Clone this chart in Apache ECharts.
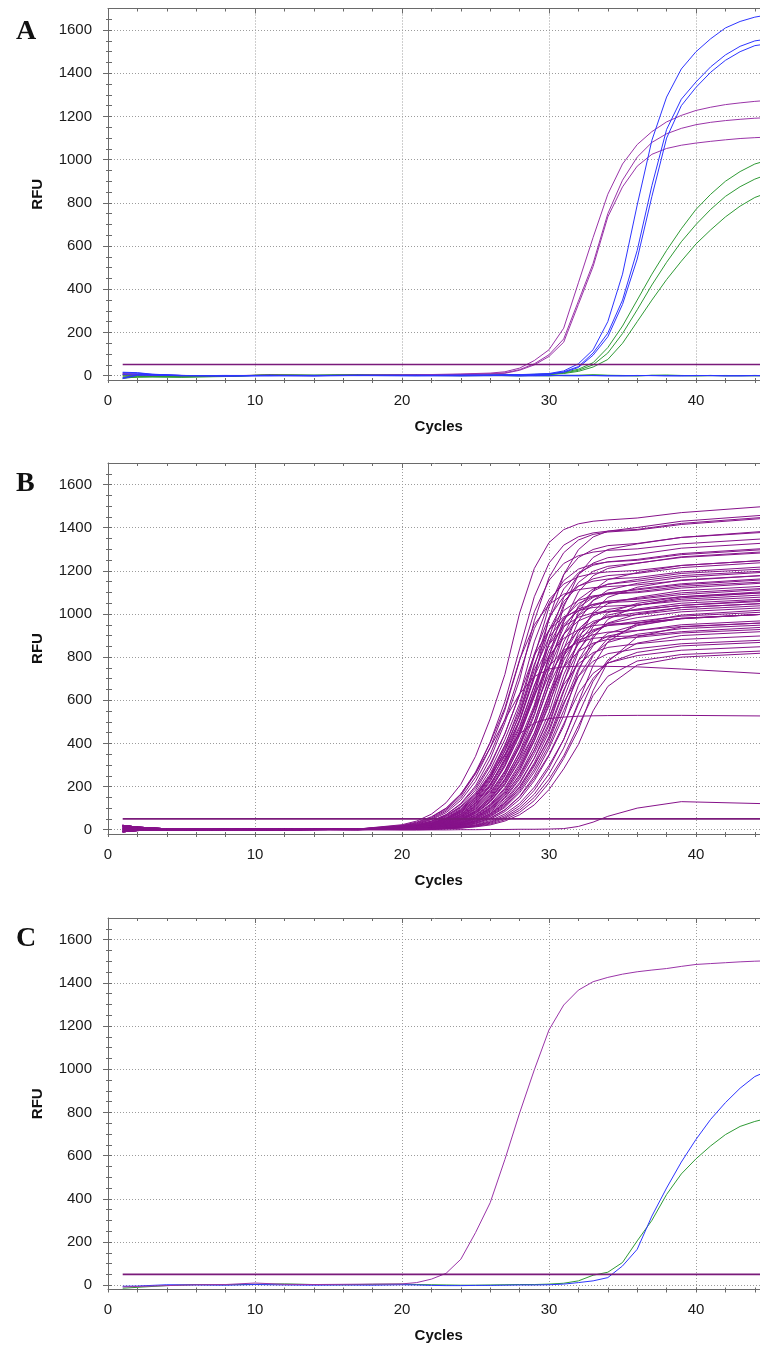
<!DOCTYPE html>
<html>
<head>
<meta charset="utf-8">
<script src="https://cdn.jsdelivr.net/npm/echarts@6/dist/echarts.min.js"></script>
<style>
  html, body { margin: 0; padding: 0; background: #fff; }
  #chart { width: 760px; height: 1346px; }
</style>
</head>
<body>
<div id="chart"></div>
<script>
// ---- data (RFU) ----
const xMinorTicks = [0, 2, 4, 6, 8, 10, 12, 14, 16, 18, 20, 22, 24, 26, 28, 30, 32, 34, 36, 38, 40, 42, 44];
const yMajorTicks = [0, 200, 400, 600, 800, 1000, 1200, 1400, 1600];
const yMinorTicks = [0, 50, 100, 150, 200, 250, 300, 350, 400, 450, 500, 550, 600, 650, 700, 750, 800,
  850, 900, 950, 1000, 1050, 1100, 1150, 1200, 1250, 1300, 1350, 1400, 1450, 1500, 1550, 1600, 1650];
const thresholdCycles = [1, 45];
const thresholds = [52, 50, 50];

// panel A
const aCycles = [1, 2, 3, 5, 8, 11, 14, 17, 21, 24, 26, 27, 28, 29, 30, 31, 32, 33, 34, 35, 36, 37, 38, 39, 40, 41, 42, 43, 44, 45];
const aPurple = [
  [8, 6, 3, 1, 0, 2, 1, 2, 4, 8, 12, 18, 35, 70, 120, 220, 430, 640, 840, 980, 1070, 1130, 1175, 1205, 1228, 1243, 1255, 1263, 1270, 1275],
  [4, 5, 2, 0, 1, 1, 0, 2, 3, 6, 9, 13, 28, 55, 97, 170, 345, 520, 750, 905, 1012, 1080, 1120, 1145, 1162, 1173, 1181, 1187, 1192, 1195],
  [10, 7, 3, 1, 0, 2, 1, 1, 3, 5, 8, 11, 25, 50, 89, 155, 330, 505, 735, 874, 970, 1025, 1052, 1067, 1077, 1085, 1092, 1098, 1102, 1105]
];
const aBlue = [
  [14, 12, 6, 1, -1, 1, 0, 2, 1, 2, 3, 4, 5, 7, 10, 22, 55, 120, 250, 470, 790, 1090, 1290, 1420, 1500, 1560, 1610, 1640, 1660, 1672],
  [-10, 4, 3, 0, 0, 1, -1, 1, 2, 1, 2, 3, 4, 6, 8, 18, 42, 105, 197, 350, 580, 880, 1140, 1280, 1360, 1430, 1485, 1525, 1550, 1560],
  [6, 8, 4, 1, -1, 0, 1, 1, 0, 2, 2, 3, 4, 5, 7, 15, 38, 95, 180, 330, 540, 830, 1100, 1250, 1335, 1405, 1460, 1500, 1528, 1538],
  [16, 14, 7, 1, -1, 1, 0, 1, -1, 0, 1, 0, -1, 1, 0, 2, 1, 0, -1, 0, 1, 0, -1, 0, 1, 0, -1, 0, 1, 0],
  [-14, 2, 3, 0, 1, -1, 1, 0, 1, -1, 0, 1, 0, -1, 1, 0, -1, 1, 0, -1, 0, 1, 0, -1, 0, 1, 0, -1, 0, -1]
];
const aGreen = [
  [-12, -6, -5, -6, -3, 3, 1, 4, 3, 2, 3, 4, 5, 6, 8, 15, 30, 60, 130, 230, 350, 470, 580, 680, 770, 840, 900, 945, 980, 1000],
  [-5, -3, -4, -5, -2, 4, 2, 5, 2, 1, 2, 3, 4, 5, 6, 12, 25, 50, 105, 195, 305, 420, 525, 620, 700, 770, 830, 875, 910, 935],
  [2, 0, -2, -4, -1, 2, 0, 3, 1, 0, 1, 2, 3, 4, 5, 10, 20, 40, 75, 150, 250, 350, 445, 530, 610, 675, 735, 785, 825, 850],
  [-10, -7, -6, -7, -4, 4, 2, 3, 5, 1, 0, 1, 2, 0, -1, 1, 2, 3, 1, 0, -1, 2, 1, 0, -1, 0, 1, 0, -1, 0],
  [4, 0, -3, -5, -2, 3, 1, 2, 4, 0, 1, 0, -1, 1, 2, 0, 1, 4, 2, 1, 0, 1, 3, 1, 0, 1, -1, 0, 1, 0]
];

// panel B
const bCycles = [1, 2, 4, 12, 17, 20, 21, 22, 23, 24, 25, 26, 27, 28, 29, 30, 31, 32, 33, 34, 36, 39, 45];
const bPurple = [
  [20, 12, 4, 2, 3, 23, 40, 72, 125, 210, 340, 514, 720, 1004, 1211, 1331, 1391, 1418, 1430, 1436, 1445, 1470, 1500],
  [15, 9, 2, 1, 2, 18, 32, 57, 98, 165, 267, 403, 565, 788, 950, 1044, 1092, 1113, 1122, 1127, 1135, 1155, 1180],
  [8, 6, 3, 0, 3, 17, 29, 53, 92, 157, 260, 406, 594, 838, 1080, 1236, 1319, 1358, 1376, 1384, 1392, 1420, 1450],
  [-6, -2, 0, 2, 1, 14, 25, 46, 79, 136, 224, 350, 512, 724, 932, 1067, 1139, 1172, 1188, 1195, 1202, 1225, 1250],
  [2, 3, 1, -1, 2, 12, 22, 40, 69, 118, 194, 304, 444, 627, 808, 925, 987, 1016, 1030, 1036, 1042, 1060, 1080],
  [-10, -4, -1, 1, 0, 13, 22, 39, 70, 121, 203, 328, 496, 695, 969, 1169, 1284, 1343, 1369, 1380, 1389, 1415, 1445],
  [15, 9, 2, 1, 2, 11, 20, 35, 63, 109, 183, 295, 446, 625, 871, 1051, 1155, 1208, 1231, 1241, 1249, 1275, 1300],
  [20, 12, 4, 2, 3, 11, 19, 33, 59, 102, 171, 276, 418, 585, 815, 984, 1081, 1130, 1152, 1162, 1169, 1195, 1220],
  [-6, -2, 0, 2, 1, 10, 17, 30, 53, 92, 155, 250, 378, 530, 739, 891, 979, 1024, 1044, 1053, 1059, 1080, 1100],
  [8, 6, 3, 0, 3, 9, 15, 27, 48, 84, 140, 227, 343, 480, 669, 807, 887, 927, 946, 953, 959, 980, 1000],
  [2, 3, 1, -1, 2, 9, 16, 28, 51, 88, 150, 249, 388, 568, 802, 1033, 1182, 1262, 1299, 1317, 1327, 1355, 1380],
  [-10, -4, -1, 1, 0, 8, 14, 25, 45, 79, 134, 223, 347, 508, 718, 925, 1058, 1129, 1163, 1178, 1188, 1215, 1240],
  [15, 9, 2, 1, 2, 7, 13, 23, 42, 73, 125, 207, 323, 472, 666, 859, 982, 1049, 1080, 1094, 1103, 1128, 1150],
  [20, 12, 4, 2, 3, 7, 12, 21, 39, 67, 115, 191, 298, 436, 615, 793, 907, 968, 997, 1010, 1018, 1040, 1060],
  [-6, -2, 0, 2, 1, 6, 11, 19, 35, 61, 105, 173, 270, 395, 558, 719, 822, 878, 904, 916, 923, 942, 960],
  [8, 6, 3, 0, 3, 7, 13, 22, 39, 70, 122, 205, 332, 502, 703, 979, 1182, 1298, 1357, 1384, 1401, 1430, 1460],
  [2, 3, 1, -1, 2, 6, 12, 20, 36, 64, 111, 187, 302, 457, 640, 892, 1076, 1183, 1236, 1261, 1276, 1305, 1330],
  [-10, -4, -1, 1, 0, 6, 10, 18, 32, 58, 100, 169, 273, 412, 578, 805, 971, 1067, 1116, 1138, 1152, 1178, 1200],
  [15, 9, 2, 1, 2, 5, 10, 17, 30, 54, 94, 157, 254, 384, 538, 749, 904, 993, 1038, 1059, 1072, 1098, 1120],
  [20, 12, 4, 2, 3, 5, 9, 16, 28, 50, 87, 146, 236, 357, 500, 697, 841, 924, 966, 985, 997, 1020, 1040],
  [-6, -2, 0, 2, 1, 4, 8, 14, 25, 45, 78, 131, 211, 320, 448, 624, 753, 827, 865, 882, 892, 912, 930],
  [8, 6, 3, 0, 3, 5, 8, 15, 26, 47, 82, 140, 232, 362, 529, 748, 963, 1102, 1177, 1211, 1235, 1265, 1290],
  [2, 3, 1, -1, 2, 4, 8, 14, 24, 44, 77, 132, 218, 340, 497, 702, 905, 1036, 1106, 1138, 1160, 1188, 1210],
  [-10, -4, -1, 1, 0, 4, 7, 13, 22, 40, 69, 118, 195, 305, 446, 630, 812, 929, 992, 1021, 1041, 1068, 1090],
  [15, 9, 2, 1, 2, 4, 6, 12, 20, 37, 64, 110, 181, 283, 414, 585, 754, 862, 921, 948, 966, 990, 1010],
  [20, 12, 4, 2, 3, 3, 6, 10, 18, 33, 57, 98, 162, 253, 369, 522, 672, 769, 821, 845, 862, 882, 900],
  [-6, -2, 0, 2, 1, 4, 6, 11, 19, 34, 60, 104, 175, 283, 428, 600, 836, 1009, 1109, 1159, 1192, 1225, 1250],
  [8, 6, 3, 0, 3, 3, 5, 10, 17, 30, 54, 94, 158, 256, 387, 543, 756, 912, 1003, 1048, 1077, 1108, 1130],
  [2, 3, 1, -1, 2, 3, 5, 9, 16, 29, 52, 90, 150, 243, 368, 515, 718, 866, 952, 995, 1023, 1050, 1070],
  [-10, -4, -1, 1, 0, 3, 5, 8, 15, 26, 47, 81, 136, 219, 332, 465, 648, 782, 859, 898, 923, 950, 970],
  [15, 9, 2, 1, 2, 3, 4, 8, 14, 24, 42, 74, 123, 199, 302, 423, 589, 711, 781, 816, 839, 862, 880],
  [20, 12, 4, 2, 3, 2, 4, 8, 14, 24, 43, 75, 128, 212, 331, 485, 684, 882, 1009, 1077, 1124, 1158, 1180],
  [-6, -2, 0, 2, 1, 2, 4, 7, 12, 21, 38, 67, 114, 189, 295, 431, 609, 785, 898, 958, 1000, 1030, 1050],
  [8, 6, 3, 0, 3, 2, 3, 6, 11, 19, 35, 60, 103, 171, 267, 391, 552, 711, 813, 868, 906, 932, 950],
  [2, 3, 1, -1, 2, 2, 3, 5, 10, 17, 31, 54, 92, 152, 238, 348, 491, 633, 725, 773, 807, 832, 850],
  [-10, -4, -1, 1, 0, 1, 3, 5, 9, 17, 30, 53, 92, 154, 249, 377, 528, 735, 887, 975, 1039, 1075, 1100],
  [15, 9, 2, 1, 2, 1, 3, 5, 9, 15, 27, 48, 84, 140, 227, 343, 480, 669, 807, 887, 946, 980, 1000],
  [20, 12, 4, 2, 3, 1, 3, 4, 8, 13, 23, 42, 73, 122, 197, 298, 418, 582, 702, 772, 822, 852, 870],
  [-6, -2, 0, 2, 1, 1, 2, 4, 7, 12, 21, 37, 65, 111, 183, 286, 418, 591, 761, 871, 957, 995, 1020],
  [8, 6, 3, 0, 3, 1, 2, 3, 6, 11, 19, 34, 58, 100, 165, 258, 378, 534, 688, 787, 865, 900, 920],
  [2, 3, 1, -1, 2, 1, 2, 3, 5, 10, 17, 30, 53, 90, 150, 234, 342, 482, 622, 711, 782, 812, 830],
  [-10, -4, -1, 1, 0, 1, 1, 3, 5, 8, 15, 26, 46, 80, 135, 218, 330, 463, 645, 778, 894, 940, 960],
  [15, 9, 2, 1, 2, 1, 1, 2, 4, 7, 13, 22, 40, 69, 115, 186, 282, 395, 551, 664, 763, 800, 820],
  [20, 12, 4, 2, 3, 16, 27, 49, 86, 147, 243, 380, 555, 784, 1010, 1156, 1234, 1270, 1287, 1295, 1302, 1325, 1350],
  [-6, -2, 0, 2, 1, 10, 18, 31, 55, 96, 161, 260, 393, 550, 767, 925, 1016, 1063, 1084, 1092, 1099, 1120, 1145],
  [8, 6, 3, 0, 3, 9, 16, 29, 51, 89, 149, 241, 364, 510, 711, 858, 942, 985, 1005, 1013, 1019, 1040, 1065],
  [2, 3, 1, -1, 2, 8, 15, 26, 48, 83, 142, 235, 366, 536, 757, 975, 1116, 1191, 1226, 1242, 1253, 1280, 1305],
  [-10, -4, -1, 1, 0, 7, 13, 22, 41, 71, 121, 200, 312, 457, 645, 831, 951, 1015, 1045, 1059, 1068, 1090, 1115],
  [15, 9, 2, 1, 2, 6, 11, 20, 35, 62, 108, 181, 293, 443, 620, 864, 1043, 1146, 1198, 1221, 1236, 1262, 1285],
  [20, 12, 4, 2, 3, 6, 10, 18, 31, 56, 97, 163, 263, 398, 558, 777, 938, 1030, 1077, 1098, 1112, 1135, 1160],
  [-6, -2, 0, 2, 1, 5, 9, 15, 27, 48, 84, 140, 227, 343, 480, 669, 807, 887, 927, 946, 957, 978, 1000],
  [8, 6, 3, 0, 3, 4, 8, 13, 24, 43, 74, 127, 209, 327, 478, 675, 870, 996, 1063, 1094, 1116, 1140, 1165],
  [2, 3, 1, -1, 2, 4, 7, 12, 21, 38, 67, 114, 189, 295, 431, 609, 785, 898, 958, 987, 1006, 1030, 1050],
  [-10, -4, -1, 1, 0, 3, 6, 10, 18, 32, 58, 100, 168, 271, 411, 575, 802, 967, 1063, 1111, 1142, 1170, 1195],
  [15, 9, 2, 1, 2, 3, 5, 9, 16, 28, 50, 86, 145, 234, 353, 495, 690, 833, 915, 956, 983, 1010, 1030],
  [20, 12, 4, 2, 3, 2, 4, 7, 13, 22, 40, 70, 120, 198, 310, 453, 639, 824, 942, 1006, 1049, 1080, 1105],
  [-6, -2, 0, 2, 1, 2, 4, 6, 12, 20, 36, 63, 108, 180, 280, 410, 579, 746, 853, 911, 950, 978, 1000],
  [8, 6, 3, 0, 3, 5, 9, 16, 28, 51, 88, 150, 249, 388, 568, 802, 1033, 1182, 1262, 1299, 1325, 1355, 1385],
  [2, 3, 1, -1, 2, 8, 14, 25, 45, 78, 131, 212, 321, 450, 627, 757, 832, 869, 887, 894, 899, 918, 940],
  [8, 6, 3, 0, 3, 20, 35, 60, 100, 165, 260, 380, 510, 630, 710, 745, 755, 758, 758, 757, 755, 745, 722],
  [-6, -2, 0, 2, 1, 12, 22, 38, 65, 105, 165, 250, 350, 445, 495, 515, 522, 526, 528, 529, 530, 530, 527],
  [-10, -4, -1, 1, 0, -2, -2, -1, -1, 0, 0, 1, 1, 2, 2, 3, 5, 15, 35, 62, 100, 130, 120]
];

// panel C
const cCycles = [1, 2, 4, 6, 8, 10, 12, 14, 16, 18, 20, 21, 22, 23, 24, 25, 26, 27, 28, 29, 30, 31, 32, 33, 34, 35, 36, 37, 38, 39, 40, 41, 42, 43, 44, 45];
const cPurple = [[-8, -6, -2, 2, 3, 10, 4, 3, 4, 5, 6, 12, 28, 55, 120, 243, 382, 582, 797, 997, 1182, 1297, 1366, 1405, 1425, 1440, 1451, 1459, 1466, 1476, 1485, 1489, 1493, 1497, 1500, 1502]];
const cBlue = [[-5, -4, 2, 1, 0, 3, 1, 0, 1, 0, 2, 1, -1, -2, -2, -1, -1, 0, 1, 1, 2, 5, 12, 20, 35, 89, 166, 320, 450, 570, 675, 768, 845, 912, 966, 995]];
const cGreen = [[-14, -10, -2, 3, 2, 4, 6, 3, 2, 4, 5, 3, 2, 1, 0, 0, 1, 2, 3, 3, 5, 9, 20, 46, 60, 105, 205, 300, 420, 515, 585, 645, 697, 735, 758, 775]];

// ---- styling ----
const PURPLE = '#9a34a8';
const PURPLE_B = '#86128a';
const BLUE = '#2d35ff';
const GREEN = '#2f9a35';
const THRESH = '#7a1a7a';
const AXIS = '#6a6a6a';
const FONT = 'Liberation Sans, Arial, sans-serif';

const panels = [
  { letter: 'A', top: 8.5, height: 371.5, letterTop: 18,
    groups: [[aCycles, aGreen, GREEN], [aCycles, aPurple, PURPLE], [aCycles, aBlue, BLUE]] },
  { letter: 'B', top: 463, height: 371, letterTop: 470,
    groups: [[bCycles, bPurple, PURPLE_B]] },
  { letter: 'C', top: 918, height: 371.5, letterTop: 925,
    groups: [[cCycles, cGreen, GREEN], [cCycles, cBlue, BLUE], [cCycles, cPurple, PURPLE]] }
];

const chart = echarts.init(document.getElementById('chart'));

const grid = [], xAxis = [], yAxis = [], series = [], graphic = [];

function xAxesFor(i) {
  const base = { gridIndex: i, type: 'value', min: 0, max: 45,
    axisLine: { show: false, onZero: false }, axisTick: { show: false },
    axisLabel: { show: false }, splitLine: { show: false } };
  const tickLine = { color: AXIS, width: 1 };
  return [
    Object.assign({}, base, {
      position: 'bottom', interval: 10,
      axisLine: { show: true, onZero: false, lineStyle: { color: AXIS, width: 1 } },
      axisLabel: { show: true, margin: 13, showMaxLabel: false, fontFamily: FONT, fontSize: 15, color: '#1a1a1a',
        formatter: v => String(v) },
      splitLine: { show: true, lineStyle: { type: [1, 2], color: '#9c9c9c', width: 1 } },
      name: 'Cycles', nameLocation: 'middle', nameGap: 39,
      nameTextStyle: { fontFamily: FONT, fontSize: 15, fontWeight: 'bold', color: '#111' }
    }),
    Object.assign({}, base, { position: 'bottom',
      axisTick: { show: true, customValues: xMinorTicks, length: 3, lineStyle: tickLine } }),
    Object.assign({}, base, { position: 'bottom',
      axisTick: { show: true, inside: true, customValues: xMinorTicks, length: 2, lineStyle: tickLine } }),
    Object.assign({}, base, { position: 'top', interval: 10,
      axisLine: { show: true, onZero: false, lineStyle: { color: AXIS, width: 1 } },
      axisTick: { show: true, inside: true, length: 5, lineStyle: tickLine } }),
    Object.assign({}, base, { position: 'top',
      axisTick: { show: true, inside: true, customValues: xMinorTicks, length: 3, lineStyle: tickLine } })
  ];
}

function yAxesFor(i) {
  const base = { gridIndex: i, type: 'value', min: -20, max: 1700, position: 'left',
    axisLine: { show: false, onZero: false }, axisTick: { show: false },
    axisLabel: { show: false }, splitLine: { show: false } };
  const tickLine = { color: AXIS, width: 1 };
  return [
    Object.assign({}, base, {
      splitNumber: 8,
      axisLine: { show: true, onZero: false, lineStyle: { color: AXIS, width: 1 } },
      axisTick: { show: true, customValues: yMajorTicks, length: 5, lineStyle: tickLine },
      axisLabel: { show: true, customValues: yMajorTicks, margin: 16, fontFamily: FONT, fontSize: 15, color: '#1a1a1a',
        formatter: v => String(v) },
      splitLine: { show: true, lineStyle: { type: [1, 2], color: '#9c9c9c', width: 1 } },
      name: 'RFU', nameLocation: 'middle', nameGap: 63,
      nameTextStyle: { fontFamily: FONT, fontSize: 15, fontWeight: 'bold', color: '#111' }
    }),
    Object.assign({}, base, {
      axisTick: { show: true, customValues: yMinorTicks, length: 2, lineStyle: tickLine } }),
    Object.assign({}, base, {
      axisTick: { show: true, inside: true, customValues: yMinorTicks, length: 4, lineStyle: tickLine } })
  ];
}

function lineSeries(i, cycles, values, color, width) {
  return {
    type: 'line', xAxisIndex: 5 * i, yAxisIndex: 3 * i,
    data: cycles.map((c, k) => [c, values[k]]),
    symbol: 'none', showSymbol: false, silent: true, animation: false,
    emphasis: { disabled: true },
    lineStyle: { color: color, width: width },
    itemStyle: { color: color }
  };
}

panels.forEach((p, i) => {
  grid.push({ left: 108, right: -9.5, top: p.top, height: p.height,
    containLabel: false, outerBoundsMode: 'none' });
  xAxis.push(...xAxesFor(i));
  yAxis.push(...yAxesFor(i));
  p.groups.forEach(([cycles, rows, color]) => {
    rows.forEach(vals => series.push(lineSeries(i, cycles, vals, color, 1)));
  });
  series.push(lineSeries(i, thresholdCycles, [thresholds[i], thresholds[i]], THRESH, 1.6));
  graphic.push({ type: 'text', left: 16, top: p.letterTop,
    style: { text: p.letter, fontFamily: 'Liberation Serif, Times New Roman, serif',
      fontSize: 28, fontWeight: 'bold', fill: '#111' } });
});

chart.setOption({
  backgroundColor: '#fff',
  animation: false,
  grid, xAxis, yAxis, series, graphic
});
</script>
</body>
</html>
